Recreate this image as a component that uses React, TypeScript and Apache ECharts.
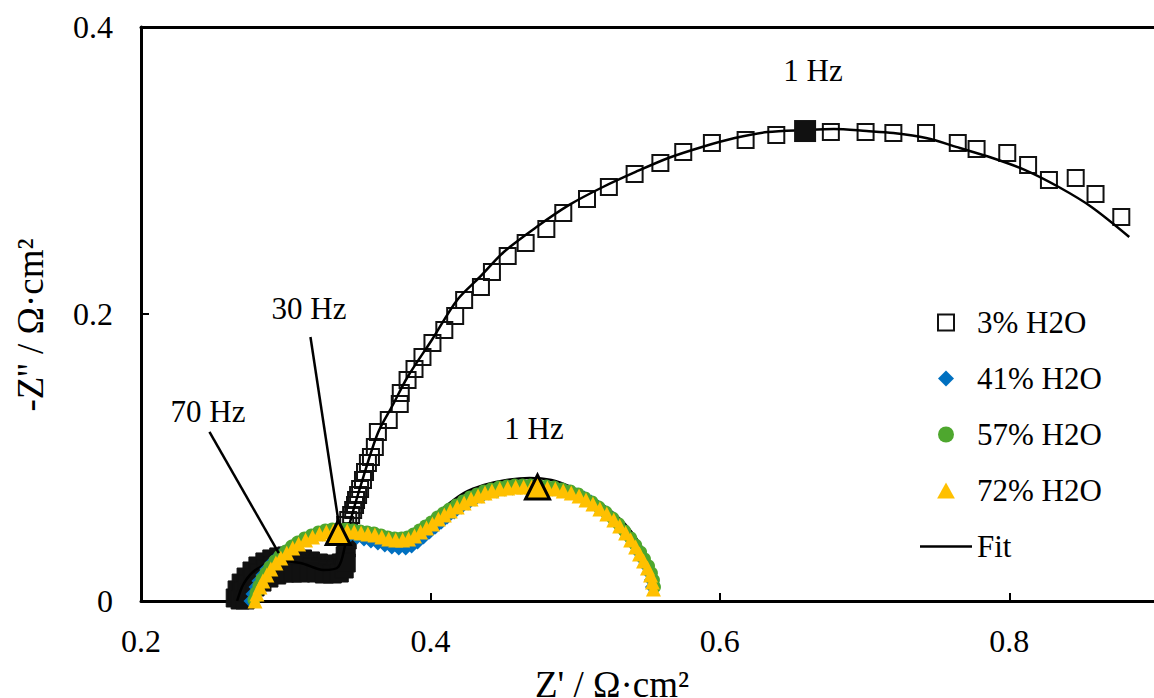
import { useEffect, useRef } from "react";
import * as echarts from "echarts";

const FONT = '"Liberation Serif", "Times New Roman", serif';

// Z' (x) and -Z'' (y) in Ω·cm²
const h2o3: [number, number][] = [
  [0.3411, 0.053], [0.3432, 0.0564], [0.3452, 0.0599], [0.3466, 0.0634], [0.3479, 0.0669],
  [0.3486, 0.0704], [0.35, 0.0739], [0.3514, 0.078], [0.3534, 0.0843], [0.3548, 0.0899],
  [0.3568, 0.0962], [0.3589, 0.1003], [0.3616, 0.1073], [0.3637, 0.1178], [0.3712, 0.1261],
  [0.3788, 0.1373], [0.3795, 0.1449], [0.3842, 0.154], [0.389, 0.1617], [0.3945, 0.17],
  [0.4014, 0.1798], [0.4096, 0.1889], [0.4171, 0.1986], [0.4233, 0.2098], [0.4349, 0.2188],
  [0.4425, 0.2293], [0.4534, 0.2404], [0.4658, 0.2495], [0.4801, 0.2592], [0.4918, 0.2704],
  [0.5082, 0.2801], [0.5233, 0.2885], [0.5411, 0.2976], [0.5589, 0.3052], [0.5747, 0.3129],
  [0.5945, 0.3192], [0.6178, 0.3213], [0.639, 0.3247], [0.6767, 0.3268], [0.7007, 0.3268],
  [0.7199, 0.3261], [0.7425, 0.3261], [0.7644, 0.3192], [0.7774, 0.315], [0.7986, 0.3122],
  [0.813, 0.3038], [0.8274, 0.2934], [0.8459, 0.2948], [0.8596, 0.2836], [0.8774, 0.2676],
];

// 3% H2O high-frequency points, packed so tightly they merge into a solid band
const h2o3HighFreq: [number, number][] = [
  [0.2651, 0.0021], [0.2664, 0.0077], [0.2692, 0.0125], [0.2726, 0.0167], [0.2767, 0.0209],
  [0.2808, 0.0244], [0.2856, 0.0272], [0.2904, 0.0293], [0.2952, 0.0307], [0.3007, 0.0314],
  [0.3062, 0.0307], [0.3116, 0.0293], [0.3171, 0.0279], [0.3226, 0.0265], [0.3281, 0.0258],
  [0.3336, 0.0251], [0.3384, 0.0265], [0.3411, 0.0314], [0.3418, 0.0369], [0.3425, 0.0425],
  [0.3432, 0.0474],
  [0.2685, 0.0007], [0.2705, 0.007], [0.2733, 0.0118], [0.2774, 0.016], [0.2815, 0.0195],
  [0.2863, 0.0223], [0.2911, 0.0244], [0.2966, 0.0258], [0.3021, 0.0265], [0.3075, 0.0258],
  [0.313, 0.0251], [0.3185, 0.0237], [0.324, 0.0223], [0.3295, 0.0216], [0.3349, 0.0216],
  [0.339, 0.023], [0.3411, 0.0272],
  [0.2719, 0.0007], [0.2747, 0.0056], [0.2788, 0.0098], [0.2836, 0.0132], [0.2884, 0.016],
  [0.2938, 0.0181], [0.2993, 0.0195], [0.3048, 0.0195], [0.3103, 0.0195], [0.3158, 0.0202],
  [0.3212, 0.0195], [0.3267, 0.0188], [0.3322, 0.0188], [0.337, 0.0195], [0.3404, 0.0223],
  [0.3418, 0.0265],
];

const h2o3At1Hz: [number, number][] = [[0.6589, 0.3275]];

const h2o41: [number, number][] = [
  [0.276, 0], [0.2774, 0.0049], [0.2795, 0.0098], [0.2815, 0.0139], [0.2842, 0.0181],
  [0.287, 0.0223], [0.2904, 0.0265], [0.2938, 0.03], [0.2979, 0.0334], [0.3021, 0.0362],
  [0.3062, 0.039], [0.311, 0.0418], [0.3158, 0.0439], [0.3205, 0.0453], [0.3253, 0.0467],
  [0.3301, 0.0474], [0.3349, 0.0474], [0.3397, 0.0467], [0.3445, 0.046], [0.3493, 0.0446],
  [0.3541, 0.0432], [0.3589, 0.0418], [0.3637, 0.0404], [0.3685, 0.039], [0.3733, 0.0376],
  [0.3781, 0.0369], [0.3829, 0.0369], [0.387, 0.0383], [0.3911, 0.0411], [0.3952, 0.0446],
  [0.3993, 0.0481], [0.4034, 0.0516], [0.4075, 0.0551], [0.4116, 0.0585], [0.4164, 0.062],
  [0.4212, 0.0655], [0.426, 0.0683], [0.4308, 0.0711], [0.4356, 0.0732], [0.4404, 0.0753],
  [0.4459, 0.0767], [0.4514, 0.078], [0.4568, 0.0787], [0.4623, 0.0794], [0.4678, 0.0794],
  [0.4733, 0.0794], [0.4788, 0.0787], [0.4842, 0.078], [0.4897, 0.0774], [0.4952, 0.076],
  [0.5007, 0.0739], [0.5062, 0.0718], [0.511, 0.069], [0.5158, 0.0655], [0.5205, 0.062],
  [0.5253, 0.0578], [0.5295, 0.0537], [0.5336, 0.0488], [0.5377, 0.0439], [0.5411, 0.039],
  [0.5438, 0.0341], [0.5466, 0.0293], [0.5493, 0.0244], [0.5514, 0.0195], [0.5527, 0.0146],
  [0.5534, 0.0098],
];

const h2o57: [number, number][] = [
  [0.2781, 0.0007], [0.2795, 0.0056], [0.2815, 0.0105], [0.2836, 0.0153], [0.2863, 0.0195],
  [0.289, 0.0237], [0.2925, 0.0279], [0.2959, 0.0314], [0.3, 0.0348], [0.3041, 0.0383],
  [0.3082, 0.0411], [0.313, 0.0439], [0.3178, 0.046], [0.3226, 0.0481], [0.3274, 0.0495],
  [0.3322, 0.0502], [0.337, 0.0502], [0.3418, 0.0502], [0.3466, 0.0495], [0.3514, 0.0488],
  [0.3562, 0.0481], [0.361, 0.0474], [0.3658, 0.046], [0.3705, 0.0446], [0.3753, 0.0439],
  [0.3801, 0.0439], [0.3842, 0.0446], [0.3884, 0.0467], [0.3925, 0.0495], [0.3966, 0.0523],
  [0.4007, 0.0551], [0.4048, 0.0585], [0.4089, 0.0613], [0.413, 0.0641], [0.4178, 0.0669],
  [0.4226, 0.0697], [0.4274, 0.0725], [0.4322, 0.0746], [0.437, 0.0767], [0.4418, 0.078],
  [0.4473, 0.0794], [0.4527, 0.0801], [0.4582, 0.0808], [0.4637, 0.0808], [0.4692, 0.0808],
  [0.4747, 0.0808], [0.4801, 0.0801], [0.4856, 0.0794], [0.4911, 0.078], [0.4966, 0.0767],
  [0.5021, 0.0746], [0.5068, 0.0718], [0.5116, 0.069], [0.5164, 0.0655], [0.5212, 0.062],
  [0.526, 0.0578], [0.5301, 0.0537], [0.5342, 0.0488], [0.5384, 0.0439], [0.5418, 0.039],
  [0.5452, 0.0341], [0.5479, 0.0293], [0.5507, 0.0244], [0.5527, 0.0195], [0.5541, 0.0146],
  [0.5548, 0.0098],
];

const h2o72: [number, number][] = [
  [0.2788, 0], [0.2801, 0.0049], [0.2822, 0.0098], [0.2842, 0.0139], [0.287, 0.0181],
  [0.2897, 0.0223], [0.2932, 0.0265], [0.2966, 0.03], [0.3007, 0.0334], [0.3048, 0.0369],
  [0.3089, 0.0397], [0.3137, 0.0425], [0.3185, 0.0446], [0.3233, 0.0467], [0.3281, 0.0481],
  [0.3329, 0.0488], [0.3377, 0.0488], [0.3425, 0.0488], [0.3473, 0.0481], [0.3521, 0.0474],
  [0.3568, 0.0467], [0.3616, 0.046], [0.3664, 0.0446], [0.3712, 0.0432], [0.376, 0.0425],
  [0.3808, 0.0425], [0.3849, 0.0432], [0.389, 0.0453], [0.3932, 0.0481], [0.3973, 0.0509],
  [0.4014, 0.0537], [0.4055, 0.0571], [0.4096, 0.0599], [0.4137, 0.0627], [0.4185, 0.0655],
  [0.4233, 0.0683], [0.4281, 0.0711], [0.4329, 0.0732], [0.4377, 0.0753], [0.4425, 0.0767],
  [0.4479, 0.078], [0.4534, 0.0787], [0.4589, 0.0794], [0.4644, 0.0794], [0.4699, 0.0794],
  [0.4753, 0.0794], [0.4808, 0.0787], [0.4863, 0.078], [0.4918, 0.0767], [0.4973, 0.0753],
  [0.5027, 0.0732], [0.5075, 0.0704], [0.5123, 0.0676], [0.5171, 0.0641], [0.5219, 0.0606],
  [0.5267, 0.0564], [0.5308, 0.0523], [0.5349, 0.0474], [0.5384, 0.0425], [0.5418, 0.0376],
  [0.5445, 0.0328], [0.5473, 0.0279], [0.55, 0.023], [0.5521, 0.0181], [0.5534, 0.0132],
  [0.5541, 0.0084],
];

// Humid-gas points at 30 Hz and 1 Hz
const h2o72Marked: [number, number][] = [[0.3363, 0.0477], [0.474, 0.0794]];

const fit3: [number, number][] = [
  [0.2664, 0], [0.2712, 0.0125], [0.2801, 0.0223], [0.2952, 0.0279], [0.3103, 0.0265],
  [0.326, 0.0216], [0.3363, 0.0237], [0.3411, 0.039], [0.3445, 0.0551], [0.3534, 0.0857],
  [0.3637, 0.1171], [0.374, 0.1366], [0.3842, 0.1561], [0.4014, 0.1826], [0.4185, 0.2098],
  [0.4342, 0.2258], [0.4507, 0.2432], [0.4733, 0.2606], [0.4959, 0.276], [0.5192, 0.2885],
  [0.5418, 0.299], [0.5644, 0.3087], [0.5877, 0.3164], [0.6103, 0.3226], [0.6329, 0.3268],
  [0.6589, 0.3282], [0.6788, 0.3289], [0.7014, 0.3275], [0.7199, 0.3261], [0.7425, 0.3226],
  [0.7658, 0.3157], [0.7884, 0.3087], [0.811, 0.3003], [0.8342, 0.2885], [0.8568, 0.2746],
  [0.8829, 0.2537],
];

const fitHumid: [number, number][] = [
  [0.276, 0], [0.2829, 0.0111], [0.2918, 0.023], [0.3021, 0.0334], [0.3123, 0.0404],
  [0.324, 0.046], [0.3349, 0.0481], [0.3466, 0.0474], [0.3582, 0.0446], [0.3692, 0.0418],
  [0.3774, 0.0425], [0.3863, 0.0474], [0.4, 0.0578], [0.4116, 0.0669], [0.4233, 0.0753],
  [0.437, 0.0808], [0.4527, 0.0843], [0.4685, 0.0857], [0.4836, 0.0843], [0.4973, 0.0794],
  [0.511, 0.0725], [0.5247, 0.0627], [0.5363, 0.0516], [0.5452, 0.039], [0.5521, 0.0251],
  [0.5555, 0.0111],
];

// Leader lines for the frequency callouts
const leader30Hz: [number, number][] = [[0.3171, 0.184], [0.3363, 0.0564]];
const leader70Hz: [number, number][] = [[0.2473, 0.1178], [0.2952, 0.0334]];

const legendNames = ["3% H2O", "41% H2O", "57% H2O", "72% H2O", "Fit"];
const legendIcons = [
  "path://M0,0H10V10H0Z",
  "path://M5,0L10,5L5,10L0,5Z",
  "path://M0,5A5,5,0,1,1,10,5A5,5,0,1,1,0,5Z",
  "path://M5,0L10,9L0,9Z",
  "path://M0,0H52V2.5H0Z",
];

const fmt = (v: number) => (v === 0 ? "0" : v.toFixed(1));

const textStyle = (text: string, size: number) => ({
  text,
  fontSize: size,
  fontFamily: FONT,
  fill: "#000",
  textAlign: "center",
  textVerticalAlign: "middle",
});

export default function App() {
  const ref = useRef<HTMLDivElement>(null);

  useEffect(() => {
    const chart = echarts.init(ref.current!, null, { renderer: "svg" });
    const axisLine = { show: true, onZero: false, lineStyle: { color: "#000", width: 3 } };
    const option: any = {
      animation: false,
      backgroundColor: "#fff",
      grid: { left: 141, right: -9, top: 27, bottom: 97 },
      xAxis: [
        {
          type: "value",
          min: 0.2,
          max: 0.9,
          interval: 0.2,
          axisLine,
          axisTick: { show: true, inside: true, length: 8, lineStyle: { color: "#000", width: 2 } },
          axisLabel: {
            color: "#000",
            fontSize: 32,
            fontFamily: FONT,
            margin: 24,
            showMaxLabel: false,
            formatter: fmt,
          },
          splitLine: { show: false },
        },
        {
          type: "value",
          position: "top",
          min: 0.2,
          max: 0.9,
          interval: 0.2,
          axisLine,
          axisTick: { show: false },
          axisLabel: { show: false },
          splitLine: { show: false },
        },
      ],
      yAxis: {
        type: "value",
        min: 0,
        max: 0.4,
        interval: 0.2,
        axisLine,
        axisTick: { show: true, inside: true, length: 8, lineStyle: { color: "#000", width: 2 } },
        axisLabel: { color: "#000", fontSize: 32, fontFamily: FONT, margin: 28, formatter: fmt },
        splitLine: { show: false },
      },
      legend: {
        data: legendNames.map((name, i) => ({ name, icon: legendIcons[i] })),
        orient: "vertical",
        left: 920,
        top: 307,
        padding: 0,
        itemWidth: 52,
        itemHeight: 16,
        itemGap: 25,
        symbolKeepAspect: true,
        textStyle: { color: "#000", fontSize: 31, fontFamily: FONT, lineHeight: 30 },
      },
      series: [
        {
          name: "3% H2O",
          type: "scatter",
          data: h2o3,
          symbol: "rect",
          symbolSize: 16,
          clip: false,
          z: 2,
          itemStyle: { color: "rgba(255,255,255,0)", borderColor: "#111", borderWidth: 2, opacity: 1 },
        },
        {
          name: "3% H2O",
          type: "scatter",
          data: h2o3HighFreq,
          symbol: "rect",
          symbolSize: 18,
          clip: false,
          z: 2,
          itemStyle: { color: "#111", borderColor: "#111", borderWidth: 1, opacity: 1 },
        },
        {
          name: "Fit",
          type: "line",
          data: fit3,
          symbol: "none",
          smooth: 0.3,
          z: 3,
          itemStyle: { color: "#000" },
          lineStyle: { color: "#000", width: 2.5 },
        },
        {
          name: "Fit",
          type: "line",
          data: fitHumid,
          symbol: "none",
          smooth: 0.3,
          z: 3,
          itemStyle: { color: "#000" },
          lineStyle: { color: "#000", width: 2.5 },
        },
        {
          name: "41% H2O",
          type: "scatter",
          data: h2o41,
          symbol: "diamond",
          symbolSize: 15,
          clip: false,
          z: 4,
          itemStyle: { color: "#0070C0", opacity: 1 },
        },
        {
          name: "57% H2O",
          type: "scatter",
          data: h2o57,
          symbol: "circle",
          symbolSize: 13,
          clip: false,
          z: 4,
          itemStyle: { color: "#4EA72E", opacity: 1 },
        },
        {
          name: "72% H2O",
          type: "scatter",
          data: h2o72,
          symbol: "triangle",
          symbolSize: 15,
          clip: false,
          z: 4,
          itemStyle: { color: "#FFC000", opacity: 1 },
        },
        {
          name: "leader-30Hz",
          type: "line",
          data: leader30Hz,
          symbol: "none",
          z: 5,
          lineStyle: { color: "#000", width: 2.5 },
        },
        {
          name: "leader-70Hz",
          type: "line",
          data: leader70Hz,
          symbol: "none",
          z: 5,
          lineStyle: { color: "#000", width: 2.5 },
        },
        {
          name: "3% H2O 1 Hz",
          type: "scatter",
          data: h2o3At1Hz,
          symbol: "rect",
          symbolSize: 22,
          z: 6,
          itemStyle: { color: "#111", opacity: 1 },
        },
        {
          name: "72% H2O marked",
          type: "scatter",
          data: h2o72Marked,
          symbol: "triangle",
          symbolSize: 24,
          z: 6,
          itemStyle: { color: "#FFC000", borderColor: "#000", borderWidth: 3, opacity: 1 },
        },
      ],
      graphic: [
        { type: "text", x: 813, y: 70, style: textStyle("1 Hz", 31) },
        { type: "text", x: 534, y: 428, style: textStyle("1 Hz", 31) },
        { type: "text", x: 309, y: 308, style: textStyle("30 Hz", 31) },
        { type: "text", x: 208, y: 411, style: textStyle("70 Hz", 31) },
        { type: "text", x: 612, y: 684, style: textStyle("Z' / Ω·cm²", 37) },
        {
          type: "text",
          x: 30,
          y: 325,
          rotation: Math.PI / 2,
          style: textStyle("-Z'' / Ω·cm²", 37),
        },
      ],
    };
    chart.setOption(option);
    return () => chart.dispose();
  }, []);

  return (
    <div
      ref={ref}
      style={{ position: "absolute", left: 0, top: 0, width: 1154, height: 698, background: "#fff" }}
    />
  );
}
